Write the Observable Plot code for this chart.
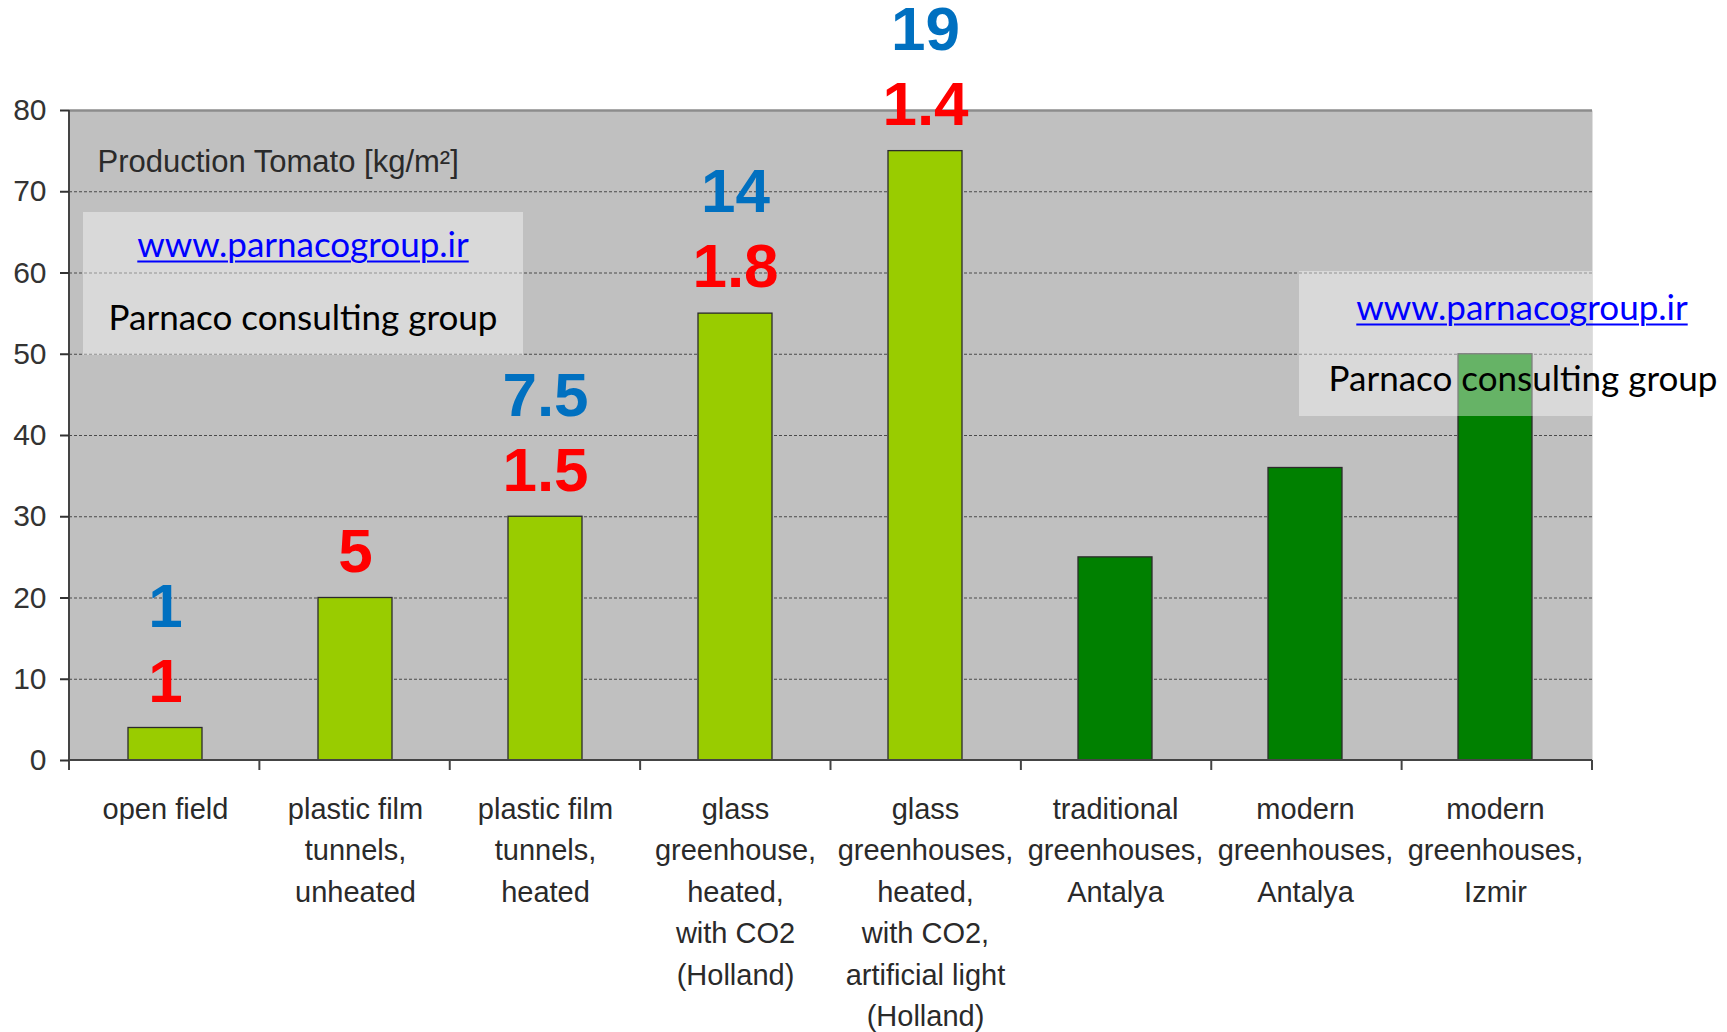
<!DOCTYPE html>
<html><head><meta charset="utf-8">
<script src="https://cdn.jsdelivr.net/npm/d3@7"></script>
<script src="https://cdn.jsdelivr.net/npm/@observablehq/plot@0.6"></script>
<style>
body{margin:0;background:#fff;}
#wrap{position:relative;width:1727px;height:1032px;overflow:hidden;}
.box{position:absolute;background:rgba(255,255,255,0.4);}
.wm{position:absolute;transform:translate(-50%,-50%);white-space:nowrap;font-family:Lato,"Open Sans",sans-serif;font-size:35px;line-height:1;color:#000;}
.url{color:#0000ff;text-decoration:underline;text-decoration-thickness:2px;text-underline-offset:4px;}
</style></head><body><div id="wrap"></div>
<script>
const categories = [
  "open field",
  "plastic film\ntunnels,\nunheated",
  "plastic film\ntunnels,\nheated",
  "glass\ngreenhouse,\nheated,\nwith CO2\n(Holland)",
  "glass\ngreenhouses,\nheated,\nwith CO2,\nartificial light\n(Holland)",
  "traditional\ngreenhouses,\nAntalya",
  "modern\ngreenhouses,\nAntalya",
  "modern\ngreenhouses,\nIzmir"
];
const production = [4, 20, 30, 55, 75, 25, 36, 50];
const groups = ["general", "general", "general", "general", "general", "Turkey", "Turkey", "Turkey"];
const groupDomain = ["general", "Turkey"];
const redLabels = ["1", "5", "1.5", "1.8", "1.4", null, null, null];
const blueLabels = ["1", null, "7.5", "14", "19", null, null, null];
const yTicks = [0, 10, 20, 30, 40, 50, 60, 70, 80];
const gridTicks = [10, 20, 30, 40, 50, 60, 70];
const title = "Production Tomato [kg/m²]";
const watermarkUrl = "www.parnacogroup.ir";
const watermarkName = "Parnaco consulting group";

const data = categories.map((c, i) => ({
  category: c, value: production[i], group: groups[i], red: redLabels[i], blue: blueLabels[i]
}));

function axisLines(index, scales, values, dims) {
  const {width, height, marginLeft, marginRight, marginTop, marginBottom} = dims;
  const x0 = marginLeft, x1 = width - marginRight, yb = height - marginBottom;
  const n = categories.length;
  const g = d3.create("svg:g").attr("stroke", "#444").attr("stroke-width", 2);
  g.append("line").attr("x1", x0).attr("x2", x0).attr("y1", marginTop).attr("y2", yb + 10);
  g.append("line").attr("x1", x0).attr("x2", x1).attr("y1", yb).attr("y2", yb);
  for (let i = 0; i <= n; i++) {
    const x = x0 + (x1 - x0) * i / n;
    g.append("line").attr("x1", x).attr("x2", x).attr("y1", yb).attr("y2", yb + 10);
  }
  return g.node();
}

const chart = Plot.plot({
  width: 1727, height: 1032,
  marginLeft: 69, marginRight: 135, marginTop: 110, marginBottom: 272,
  style: {fontFamily: "'Liberation Sans', Arial, sans-serif", background: "transparent", overflow: "visible"},
  x: {domain: categories, paddingInner: 0.61, paddingOuter: 0.305, axis: null, label: null},
  y: {domain: [0, 80], axis: null, label: null},
  color: {domain: groupDomain, range: ["#99cc00", "#008000"]},
  marks: [
    Plot.frame({fill: "#c0c0c0", stroke: null}),
    Plot.ruleY(gridTicks, {stroke: "#4a4a4a", strokeDasharray: "3,2", strokeWidth: 1.2}),
    Plot.ruleY([80], {stroke: "#8c8c8c", strokeWidth: 2.5}),
    Plot.barY(data, {x: "category", y: "value", fill: "group", stroke: "#2b2b2b", strokeWidth: 1.3}),
    axisLines,
    Plot.axisY({ticks: yTicks, tickSize: 9, tickPadding: 14, fontSize: 30, color: "#333", strokeWidth: 2, label: null}),
    Plot.axisX({tickSize: 0, tickPadding: 29, fontSize: 29, lineHeight: 1.43, color: "#2a2a2a", label: null}),
    Plot.text([title], {frameAnchor: "top-left", dx: 28, dy: 52, fontSize: 31, fill: "#2a2a2a", textAnchor: "start", lineAnchor: "middle"}),
    Plot.text(data.filter(d => d.red), {x: "category", y: "value", text: "red", dy: -46, fill: "#ff0000", fontSize: 62, fontWeight: "bold"}),
    Plot.text(data.filter(d => d.blue), {x: "category", y: "value", text: "blue", dy: -121, fill: "#0070c0", fontSize: 62, fontWeight: "bold"})
  ]
});
const wrap = document.getElementById("wrap");
wrap.appendChild(chart);

function addBox(l, t, w, h) {
  const b = document.createElement("div");
  b.className = "box";
  Object.assign(b.style, {left: l + "px", top: t + "px", width: w + "px", height: h + "px"});
  wrap.appendChild(b);
}
function addText(txt, cx, cy, cls) {
  const s = document.createElement("div");
  s.className = "wm " + (cls || "");
  s.textContent = txt;
  Object.assign(s.style, {left: cx + "px", top: cy + "px"});
  wrap.appendChild(s);
}
addBox(83, 212, 440, 143);
addText(watermarkUrl, 303, 243, "url");
addText(watermarkName, 303, 316);
addBox(1299, 271, 293, 145);
addText(watermarkUrl, 1522, 306, "url");
addText(watermarkName, 1523, 377);
</script></body></html>
